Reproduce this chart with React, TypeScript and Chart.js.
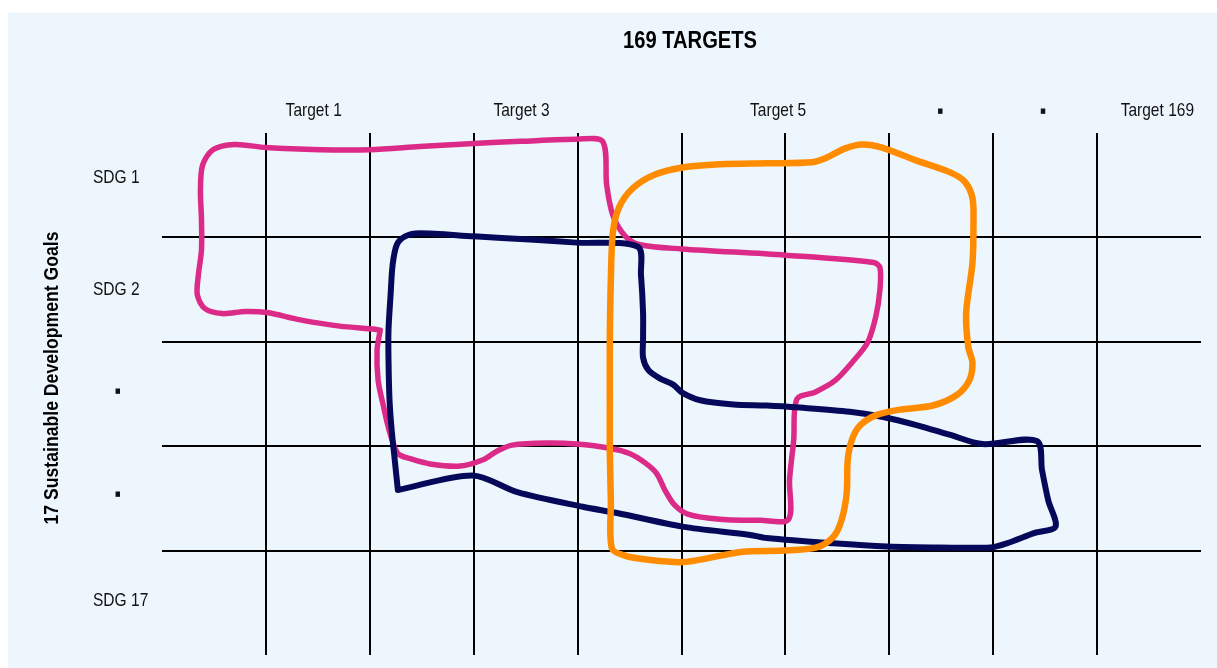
import React, { useEffect, useRef } from 'react';
import { Chart, registerables } from 'chart.js';

Chart.register(...registerables);

// titles
const chartTitle = '169 TARGETS';
const axisTitle = '17 Sustainable Development Goals';

// grid lines (cell borders) in grid units
const gridColumns = [1, 2, 3, 4, 5, 6, 7, 8, 9];
const gridRows = [1, 2, 3, 4];

// column tick labels (top)
const columnTickValues = [1.46, 3.46, 5.93, 7.49, 8.48, 9.58];
const columnTickLabels = ['Target 1', 'Target 3', 'Target 5', '■', '■', 'Target 169'];
// row tick labels (left)
const rowTickValues = [0.43, 1.5, 4.48];
const rowTickLabels = ['SDG 1', 'SDG 2', 'SDG 17'];
const rowDotValues = [2.47, 3.46];
const rowDotLabels = ['■', '■'];

// outlines (x = target column units, y = goal row units)
const orangeX = [4.31, 4.31, 4.32, 4.34, 4.40, 4.53, 4.74, 5.01, 5.37, 5.82, 6.26, 6.39, 6.57, 6.74, 6.93, 7.25, 7.57, 7.72, 7.80, 7.81, 7.80, 7.74, 7.76, 7.80, 7.77, 7.65, 7.42, 7.10, 6.88, 6.72, 6.64, 6.60, 6.59, 6.54, 6.46, 6.30, 5.98, 5.59, 5.27, 5.01, 4.70, 4.46, 4.33, 4.32, 4.31, 4.31];
const orangeY = [2.56, 1.98, 1.41, 0.95, 0.71, 0.53, 0.40, 0.33, 0.30, 0.29, 0.28, 0.24, 0.15, 0.11, 0.14, 0.26, 0.37, 0.46, 0.62, 0.88, 1.25, 1.72, 2.05, 2.20, 2.37, 2.51, 2.61, 2.65, 2.70, 2.80, 2.94, 3.13, 3.45, 3.71, 3.87, 3.97, 4.00, 4.01, 4.07, 4.11, 4.09, 4.05, 3.98, 3.52, 3.04, 2.56];

const navyX = [2.27, 2.24, 2.21, 2.19, 2.18, 2.18, 2.20, 2.22, 2.26, 2.34, 2.48, 3.00, 3.54, 3.99, 4.58, 4.61, 4.63, 4.63, 4.63, 4.68, 4.79, 4.92, 5.01, 5.18, 5.50, 5.82, 6.14, 6.62, 6.94, 7.27, 7.58, 7.90, 8.42, 8.47, 8.53, 8.60, 8.40, 8.13, 7.97, 7.49, 6.98, 6.46, 5.82, 5.66, 5.01, 4.38, 4.05, 3.42, 2.99, 2.27];
const navyY = [3.42, 3.13, 2.84, 2.56, 2.17, 1.89, 1.55, 1.26, 1.07, 0.99, 0.96, 0.99, 1.02, 1.05, 1.09, 1.36, 1.72, 1.98, 2.15, 2.27, 2.35, 2.41, 2.49, 2.56, 2.60, 2.61, 2.63, 2.67, 2.72, 2.80, 2.89, 2.98, 2.95, 3.23, 3.52, 3.77, 3.83, 3.93, 3.97, 3.97, 3.96, 3.93, 3.88, 3.85, 3.77, 3.64, 3.58, 3.44, 3.28, 3.42];

const pinkX = [2.10, 2.07, 2.08, 2.13, 2.19, 2.27, 2.39, 2.58, 2.87, 3.09, 3.22, 3.37, 3.71, 3.99, 4.31, 4.50, 4.65, 4.76, 4.84, 4.93, 5.06, 5.37, 5.76, 6.03, 6.04, 6.08, 6.11, 6.29, 6.48, 6.64, 6.79, 6.87, 6.91, 6.91, 6.85, 6.00, 5.00, 4.60, 4.46, 4.34, 4.28, 4.24, 3.99, 3.45, 3.00, 2.48, 2.00, 1.52, 1.00, 0.70, 0.49, 0.39, 0.37, 0.38, 0.38, 0.35, 0.34, 0.41, 0.58, 0.80, 1.01, 1.33, 1.71, 2.05, 2.10];
const pinkY = [1.89, 2.08, 2.37, 2.61, 2.86, 3.07, 3.12, 3.17, 3.19, 3.13, 3.05, 2.99, 2.97, 2.98, 3.02, 3.07, 3.16, 3.26, 3.42, 3.56, 3.65, 3.70, 3.71, 3.70, 3.32, 2.94, 2.55, 2.48, 2.37, 2.20, 2.01, 1.76, 1.50, 1.29, 1.24, 1.17, 1.11, 1.07, 0.99, 0.79, 0.50, 0.08, 0.06, 0.08, 0.10, 0.13, 0.16, 0.16, 0.14, 0.11, 0.16, 0.31, 0.55, 0.83, 1.12, 1.36, 1.55, 1.68, 1.73, 1.71, 1.72, 1.79, 1.85, 1.88, 1.89];

const FONT = "'Liberation Sans', Arial, sans-serif";
const TEXT_COLOR = '#111';
const TICK_SIZE = 18.5;
const CONDENSE = 0.84; // the reference uses a condensed typeface

const toPoints = (xs: number[], ys: number[]) => xs.map((x, i) => ({ x, y: ys[i] }));

const outline = (data: { x: number; y: number }[], color: string, width: number) => ({
  data,
  borderColor: color,
  backgroundColor: color,
  borderWidth: width,
  showLine: true,
  pointRadius: 0,
  pointHoverRadius: 0,
  tension: 0.3,
  fill: false,
  borderJoinStyle: 'round' as const,
  borderCapStyle: 'round' as const,
  xAxisID: 'x',
  yAxisID: 'y',
});

// fixed box sizes, no extra label padding from the layout
const fixBox = (w?: number, h?: number) => (s: any) => {
  if (w !== undefined) s.width = w;
  if (h !== undefined) s.height = h;
  s.paddingTop = 0;
  s.paddingBottom = 0;
  s.paddingLeft = 0;
  s.paddingRight = 0;
};

const setTicks = (values: number[]) => (s: any) => {
  s.ticks = values.map((v) => ({ value: v }));
};

function condenseText(ctx: CanvasRenderingContext2D) {
  const fill = ctx.fillText.bind(ctx);
  const measure = ctx.measureText.bind(ctx);
  (ctx as any).fillText = (text: string, x: number, y: number, maxWidth?: number) => {
    ctx.save();
    ctx.translate(x, y);
    ctx.scale(CONDENSE, 1);
    if (maxWidth === undefined) fill(text, 0, 0);
    else fill(text, 0, 0, maxWidth / CONDENSE);
    ctx.restore();
  };
  (ctx as any).measureText = (text: string) => {
    const m = measure(text);
    return {
      width: m.width * CONDENSE,
      actualBoundingBoxLeft: m.actualBoundingBoxLeft * CONDENSE,
      actualBoundingBoxRight: m.actualBoundingBoxRight * CONDENSE,
      actualBoundingBoxAscent: m.actualBoundingBoxAscent,
      actualBoundingBoxDescent: m.actualBoundingBoxDescent,
      fontBoundingBoxAscent: m.fontBoundingBoxAscent,
      fontBoundingBoxDescent: m.fontBoundingBoxDescent,
    };
  };
}

// chart title and rotated axis title, placed relative to the chart area
const titlesPlugin = {
  id: 'sdgTitles',
  afterDraw(chart: any) {
    const { ctx, chartArea } = chart;
    const midX = (chartArea.left + chartArea.right) / 2;
    const midY = (chartArea.top + chartArea.bottom) / 2;
    ctx.save();
    ctx.fillStyle = '#000';
    ctx.textAlign = 'center';
    ctx.textBaseline = 'middle';
    ctx.font = `bold 24px ${FONT}`;
    ctx.fillText(chartTitle, midX + 8.5, chartArea.top - 91.5);
    ctx.translate(chartArea.left - 110, midY - 16);
    ctx.rotate(-Math.PI / 2);
    ctx.font = `bold 21px ${FONT}`;
    ctx.fillText(axisTitle, 0, 0);
    ctx.restore();
  },
};

export default function App() {
  const ref = useRef<HTMLCanvasElement>(null);

  useEffect(() => {
    if (!ref.current) return;
    const ctx2d = ref.current.getContext('2d');
    if (ctx2d) condenseText(ctx2d);
    const lh = TICK_SIZE * 1.2;
    const dotFont = { family: 'DejaVu Sans', size: 7, lineHeight: lh / 7 };
    const textFont = { family: FONT, size: TICK_SIZE };
    const chart = new Chart(ref.current, {
      type: 'scatter',
      data: {
        datasets: [
          outline(toPoints(orangeX, orangeY), '#ff8c00', 6.5),
          outline(toPoints(navyX, navyY), '#06095a', 6),
          outline(toPoints(pinkX, pinkY), '#dc2a88', 5.5),
        ],
      },
      plugins: [titlesPlugin],
      options: {
        animation: false,
        responsive: true,
        maintainAspectRatio: false,
        devicePixelRatio: 1,
        events: [],
        layout: { padding: { top: 0, right: 16, bottom: 13, left: 154 } },
        plugins: {
          legend: { display: false },
          tooltip: { enabled: false },
          title: { display: false },
        },
        scales: {
          x: {
            type: 'linear',
            position: 'bottom',
            min: 0,
            max: 10,
            afterBuildTicks: setTicks(gridColumns),
            ticks: { display: false },
            grid: { color: '#000', lineWidth: 2, drawTicks: false },
            border: { display: false },
            afterFit: fixBox(undefined, 0),
          },
          y: {
            type: 'linear',
            position: 'left',
            min: 0,
            max: 5,
            reverse: true,
            weight: 0,
            afterBuildTicks: setTicks(gridRows),
            ticks: { display: false },
            grid: { color: '#000', lineWidth: 2, drawTicks: false },
            border: { display: false },
            afterFit: fixBox(0),
          },
          xLabels: {
            type: 'linear',
            position: 'top',
            min: 0,
            max: 10,
            afterBuildTicks: setTicks(columnTickValues),
            ticks: {
              autoSkip: false,
              maxRotation: 0,
              minRotation: 0,
              padding: 11,
              color: TEXT_COLOR,
              font: (c: any) => (columnTickLabels[c.index] === '■' ? dotFont : textFont),
              callback: (_v: any, i: number) => columnTickLabels[i],
            },
            grid: { display: false, drawTicks: false },
            border: { display: false },
            afterFit: fixBox(undefined, 120),
          },
          yLabels: {
            type: 'linear',
            position: 'left',
            min: 0,
            max: 5,
            reverse: true,
            weight: 1,
            afterBuildTicks: setTicks(rowTickValues),
            ticks: {
              autoSkip: false,
              mirror: true,
              crossAlign: 'near',
              padding: -69,
              color: TEXT_COLOR,
              font: textFont,
              callback: (_v: any, i: number) => rowTickLabels[i],
            },
            grid: { display: false, drawTicks: false },
            border: { display: false },
            afterFit: fixBox(0),
          },
          yDots: {
            type: 'linear',
            position: 'left',
            min: 0,
            max: 5,
            reverse: true,
            weight: 1,
            afterBuildTicks: setTicks(rowDotValues),
            ticks: {
              autoSkip: false,
              mirror: true,
              crossAlign: 'center',
              padding: -47,
              color: TEXT_COLOR,
              font: dotFont,
              callback: (_v: any, i: number) => rowDotLabels[i],
            },
            grid: { display: false, drawTicks: false },
            border: { display: false },
            afterFit: fixBox(0),
          },
        },
      } as any,
    });
    return () => chart.destroy();
  }, []);

  return (
    <div
      style={{
        position: 'absolute',
        left: 8,
        top: 13,
        width: 1209,
        height: 655,
        background: '#eef6fd',
      }}
    >
      <canvas ref={ref} />
    </div>
  );
}
